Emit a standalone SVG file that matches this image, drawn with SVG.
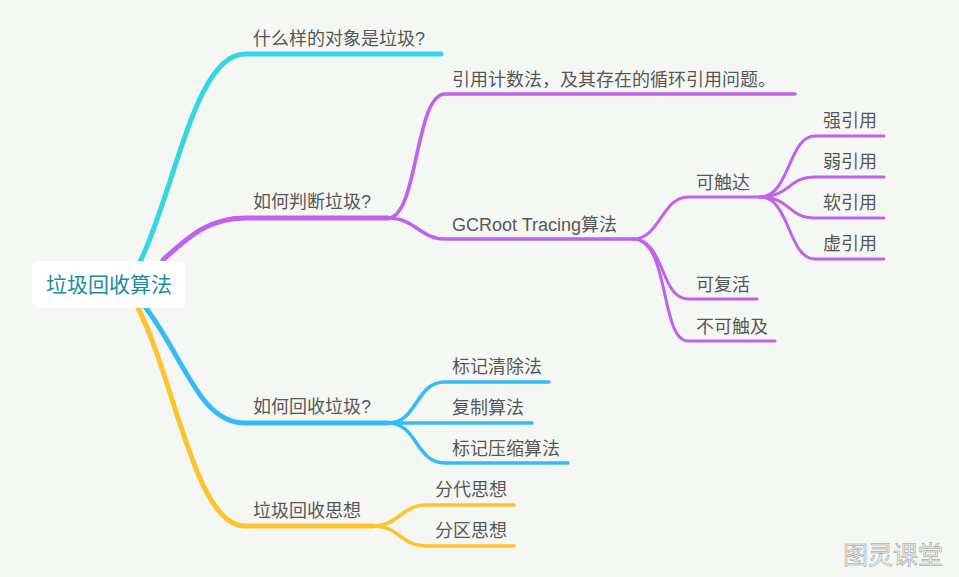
<svg xmlns="http://www.w3.org/2000/svg" width="959" height="577" viewBox="0 0 959 577">
<style>
.t{font-family:"Liberation Sans","Noto Sans CJK SC",sans-serif;font-size:18px;fill:#575757}
.c{fill:none;stroke-linecap:round}
.cy{stroke:#33d6e5}
.pu{stroke:#c062ee}
.bl{stroke:#35bbf8}
.ye{stroke:#fdc42f}
.w5{stroke-width:5}
.w4{stroke-width:3.6}
.w3{stroke-width:3}
</style>
<rect width="959" height="577" fill="#f5f7f5"/>
<g id="connectors">
<path class="c cy w5" d="M140,262 C175,190 195,54 245,54 L441,54"/>
<path class="c pu w5" d="M163,260 C190,235 210,218 245,218 L388,218"/>
<path class="c bl w5" d="M146,308 C185,360 200,423 245,423 L388,423"/>
<path class="c ye w5" d="M138,308 C175,380 195,526 245,526 L373,526"/>
<path class="c pu w4" d="M388,218 C418,218 415,94 445,94 L795,94"/>
<path class="c pu w4" d="M388,218 C415,218 420,239 445,239 L633,239"/>
<path class="c pu w3" d="M633,239 C660,239 662,197 688,197 L760,197"/>
<path class="c pu w3" d="M633,239 C665,239 660,299 688,299 L757,299"/>
<path class="c pu w3" d="M633,239 C670,239 660,341 688,341 L775,341"/>
<path class="c pu w3" d="M760,197 C790,197 788,136 815,136 L884,136"/>
<path class="c pu w3" d="M760,197 C790,197 788,177 815,177 L884,177"/>
<path class="c pu w3" d="M760,197 C790,197 788,218 815,218 L884,218"/>
<path class="c pu w3" d="M760,197 C790,197 788,259 815,259 L884,259"/>
<path class="c bl w4" d="M388,423 C418,423 415,382 445,382 L549,382"/>
<path class="c bl w4" d="M388,423 L532,423"/>
<path class="c bl w4" d="M388,423 C418,423 415,463 445,463 L568,463"/>
<path class="c ye w4" d="M373,526 C400,526 400,505 427,505 L514,505"/>
<path class="c ye w4" d="M373,526 C400,526 400,546 427,546 L514,546"/>
</g>
<g id="root">
<rect x="32" y="261" width="154" height="47" rx="6" fill="#ffffff"/>
<text x="109" y="292" text-anchor="middle" style="font-family:'Noto Sans CJK SC','Noto Sans',sans-serif;font-size:21px;fill:#1b8aa6">垃圾回收算法</text>
</g>
<g id="n1"><text class="t" x="253" y="45">什么样的对象是垃圾?</text></g>
<g id="n2"><text class="t" x="253" y="208">如何判断垃圾?</text></g>
<g id="n2a"><text class="t" x="452" y="86">引用计数法，及其存在的循环引用问题。</text></g>
<g id="n2b"><text class="t" x="452" y="231">GCRoot Tracing算法</text></g>
<g id="n2b1"><text class="t" x="696" y="189">可触达</text></g>
<g id="n2b1a"><text class="t" x="823" y="127">强引用</text></g>
<g id="n2b1b"><text class="t" x="823" y="168">弱引用</text></g>
<g id="n2b1c"><text class="t" x="823" y="209">软引用</text></g>
<g id="n2b1d"><text class="t" x="823" y="250">虚引用</text></g>
<g id="n2b2"><text class="t" x="696" y="291">可复活</text></g>
<g id="n2b3"><text class="t" x="696" y="333">不可触及</text></g>
<g id="n3"><text class="t" x="253" y="413">如何回收垃圾?</text></g>
<g id="n3a"><text class="t" x="452" y="373">标记清除法</text></g>
<g id="n3b"><text class="t" x="452" y="414">复制算法</text></g>
<g id="n3c"><text class="t" x="452" y="455">标记压缩算法</text></g>
<g id="n4"><text class="t" x="253" y="517">垃圾回收思想</text></g>
<g id="n4a"><text class="t" x="435" y="496">分代思想</text></g>
<g id="n4b"><text class="t" x="435" y="537">分区思想</text></g>
<g id="watermark"><text x="843" y="564" style="font-family:'Noto Sans CJK SC',sans-serif;font-size:25px;fill:#f4f4f4;stroke:#8f8f8f;stroke-width:0.5">图灵课堂</text></g>
</svg>
